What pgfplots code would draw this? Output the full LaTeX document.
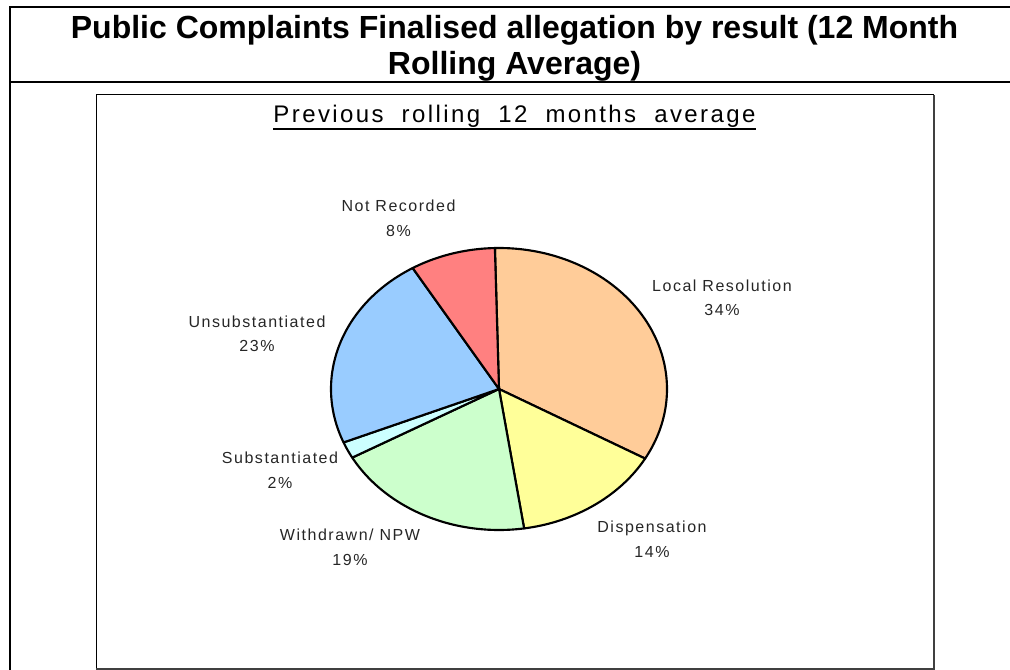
\documentclass[border=0pt]{standalone}
\usepackage{fontspec}
\setmainfont{Liberation Sans}
\newfontfamily\labfont[LetterSpace=9.5]{Liberation Sans}
\newfontfamily\subfont[LetterSpace=10,WordSpace=2.0]{Liberation Sans}
\usepackage{pgfplots}
\usepackage{pgfplotstable}
\pgfplotsset{compat=1.18}

\definecolor{cLocal}{HTML}{FFCC99}
\definecolor{cDisp}{HTML}{FFFF99}
\definecolor{cWith}{HTML}{CCFFCC}
\definecolor{cSub}{HTML}{CCFFFF}
\definecolor{cUnsub}{HTML}{99CCFF}
\definecolor{cNot}{HTML}{FF8080}
\definecolor{shadowgray}{HTML}{404040}

% share of each result, clockwise from 12 o'clock
\pgfplotstableread{
value color
33.6 cLocal
14.4 cDisp
19.3 cWith
1.9  cSub
22.6 cUnsub
8.2  cNot
}\piedata

\begin{document}
\begin{tikzpicture}
\begin{axis}[
    width=757.5pt, height=502.5pt, scale only axis,
    xmin=0, xmax=1010, ymin=0, ymax=670,
    y dir=reverse,
    hide axis, clip=false,
]
    % frames
    \draw[line width=1.5pt] (10,670) -- (10,7) -- (1010,7);
    \draw[line width=1.5pt] (10,82) -- (1010,82);
    \draw[line width=0.75pt] (96,95) rectangle (933,669);
    \draw[line width=1.5pt, shadowgray] (933.5,95) -- (933.5,669) -- (96,669);

    % titles
    \node[anchor=base, inner sep=0, font=\fontsize{24}{27}\selectfont\bfseries]
        at (514.5,39) {Public Complaints Finalised allegation by result (12 Month};
    \node[anchor=base, inner sep=0, font=\fontsize{24}{27}\selectfont\bfseries]
        at (514.5,75) {Rolling Average)};
    \node (sub) [anchor=base, inner sep=0, font=\subfont\fontsize{18}{20}\selectfont]
        at (514.5,123) {Previous rolling 12 months average};
    \draw[line width=1.1pt] ([yshift=-4.5pt]sub.base west) -- ([yshift=-4.5pt]sub.base east);

    % slices
    \pgfplotstablegetrowsof{\piedata}
    \pgfmathtruncatemacro{\lastrow}{\pgfplotsretval-1}
    \def\cum{0}
    \pgfplotsforeachungrouped \i in {0,...,\lastrow}{%
        \pgfplotstablegetelem{\i}{value}\of\piedata \let\val\pgfplotsretval
        \pgfplotstablegetelem{\i}{color}\of\piedata \let\col\pgfplotsretval
        \pgfmathsetmacro{\angA}{91.4-3.6*\cum}
        \pgfmathsetmacro{\angB}{91.4-3.6*(\cum+\val)}
        \pgfmathsetmacro{\cum}{\cum+\val}
        \edef\slice{\noexpand\addplot[fill=\col, draw=black, line width=1.6pt,
            line join=round, domain=\angB:\angA, samples=90]
            ({499+168*cos(x)}, {389-141*sin(x)}) -- (axis cs:499,389) -- cycle;}
        \slice
    }

    % labels
    \tikzset{lab/.style={align=center, inner sep=0,
        font=\labfont\fontsize{12}{18.4}\selectfont, text=black!85}}
    \node[lab] at (398.5,218.5) {Not Recorded\\8\%};
    \node[lab] at (722,298) {Local Resolution\\34\%};
    \node[lab] at (652,539) {Dispensation\\14\%};
    \node[lab] at (350,547.5) {Withdrawn/ NPW\\19\%};
    \node[lab] at (280,470.5) {Substantiated\\2\%};
    \node[lab] at (257,334) {Unsubstantiated\\23\%};
\end{axis}
\pgfresetboundingbox
\path (current axis.south west) rectangle (current axis.north east);
\end{tikzpicture}
\end{document}
